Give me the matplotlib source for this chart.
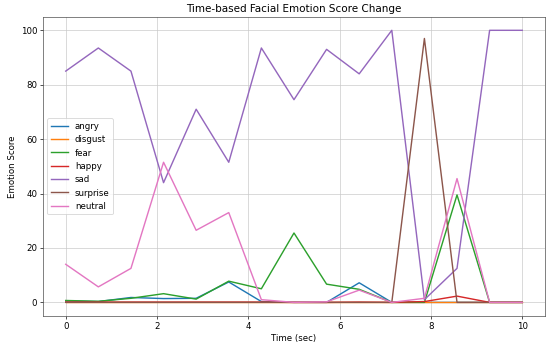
import numpy as np
import matplotlib
matplotlib.use("Agg")
import matplotlib.pyplot as plt

# time axis (15 samples over 10 sec)
time_sec = np.linspace(0, 10, 15)

angry = [0.5, 0.3, 1.8, 1.4, 1.5, 7.5, 0.3, 0.0, 0.0, 7.2, 0.0, 0.0, 0.0, 0.0, 0.0]
disgust = [0.0, 0.0, 0.0, 0.0, 0.0, 0.0, 0.0, 0.0, 0.0, 0.0, 0.0, 0.0, 0.0, 0.0, 0.0]
fear = [0.7, 0.4, 1.5, 3.2, 1.2, 7.8, 5.0, 25.5, 6.7, 4.8, 0.0, 0.0, 39.5, 0.0, 0.0]
happy = [0.1, 0.1, 0.1, 0.1, 0.1, 0.1, 0.1, 0.0, 0.0, 0.1, 0.0, 0.3, 2.3, 0.0, 0.0]
sad = [85.0, 93.5, 85.0, 44.0, 71.0, 51.5, 93.5, 74.5, 93.0, 84.0, 100.0, 1.0, 12.5, 100.0, 100.0]
surprise = [0.0, 0.0, 0.0, 0.0, 0.0, 0.0, 0.0, 0.0, 0.0, 0.0, 0.0, 97.0, 0.0, 0.0, 0.0]
neutral = [14.0, 5.7, 12.5, 51.5, 26.5, 33.0, 1.0, 0.0, 0.2, 4.5, 0.0, 1.5, 45.5, 0.0, 0.0]

emotions = {
    "angry": angry,
    "disgust": disgust,
    "fear": fear,
    "happy": happy,
    "sad": sad,
    "surprise": surprise,
    "neutral": neutral,
}

plt.rcParams["font.size"] = 10.4
plt.rcParams["axes.titlesize"] = 12.4
plt.rcParams["axes.edgecolor"] = "#444444"

fig = plt.figure(figsize=(550 / 60, 348 / 60), dpi=60)
ax = fig.add_axes([0.078, 0.092, 0.913, 0.86])

for name, vals in emotions.items():
    ax.plot(time_sec, vals, label=name, linewidth=1.7)

ax.set_title("Time-based Facial Emotion Score Change")
ax.set_xlabel("Time (sec)")
ax.set_ylabel("Emotion Score")
ax.grid(True, color="#c8c8c8")
ax.legend(loc="center left")

fig.savefig("out.png", dpi=60)
